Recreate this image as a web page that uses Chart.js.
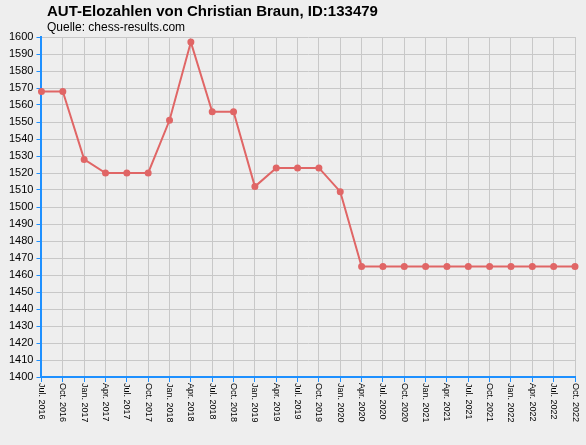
<!DOCTYPE html>
<html><head><meta charset="utf-8">
<script src="https://cdn.jsdelivr.net/npm/chart.js@4"></script>
<style>
html,body{margin:0;padding:0;background:#eeeeee;}
#t{position:absolute;left:47px;top:2px;font:bold 15px "Liberation Sans",Arial,sans-serif;color:#000;}
#s{position:absolute;left:47px;top:20px;font:12px "Liberation Sans",Arial,sans-serif;color:#000;}
#w{position:absolute;left:0;top:0;width:586px;height:445px;}
</style></head><body>
<div id="w"><canvas id="c" width="586" height="445"></canvas></div>
<div id="t">AUT-Elozahlen von Christian Braun, ID:133479</div>
<div id="s">Quelle: chess-results.com</div>
<script>
const categories=["Jul. 2016","Oct. 2016","Jan. 2017","Apr. 2017","Jul. 2017","Oct. 2017","Jan. 2018","Apr. 2018","Jul. 2018","Oct. 2018","Jan. 2019","Apr. 2019","Jul. 2019","Oct. 2019","Jan. 2020","Apr. 2020","Jul. 2020","Oct. 2020","Jan. 2021","Apr. 2021","Jul. 2021","Oct. 2021","Jan. 2022","Apr. 2022","Jul. 2022","Oct. 2022"];
const elo=[1568,1568,1528,1520,1520,1520,1551,1597,1556,1556,1512,1523,1523,1523,1509,1465,1465,1465,1465,1465,1465,1465,1465,1465,1465,1465];
const yMin=1400,yMax=1600,yStep=10;
const font='"Liberation Sans",Arial,sans-serif';
const xLabels={id:'xl',afterDraw(ch){const c=ch.ctx,s=ch.scales.x;c.save();c.font='9px '+font;c.fillStyle='#000';c.textBaseline='middle';c.textAlign='left';
categories.forEach((l,i)=>{const x=s.getPixelForValue(i);c.save();c.translate(x,s.top+6);c.rotate(Math.PI/2);c.fillText(l,0,0);c.restore();});c.restore();}};
new Chart(document.getElementById('c'),{type:'line',
data:{labels:categories,datasets:[{data:elo,borderColor:'#e06666',backgroundColor:'#e06666',borderWidth:2,pointRadius:2.5,pointHoverRadius:2.5,tension:0}]},
options:{responsive:false,animation:false,layout:{padding:{top:37,right:11,bottom:63,left:6}},
plugins:{legend:{display:false},tooltip:{enabled:false}},
scales:{x:{offset:false,grid:{color:'#c8c8c8',tickColor:'#1e90ff',tickLength:5},border:{color:'#1e90ff',width:2},ticks:{display:false}},
y:{min:yMin,max:yMax,ticks:{stepSize:yStep,color:'#000',font:{size:11,family:font},padding:3,callback:v=>String(v)},grid:{color:'#c8c8c8',tickColor:'#1e90ff',tickLength:5},border:{color:'#1e90ff',width:2}}}},
plugins:[xLabels]});
</script></body></html>
